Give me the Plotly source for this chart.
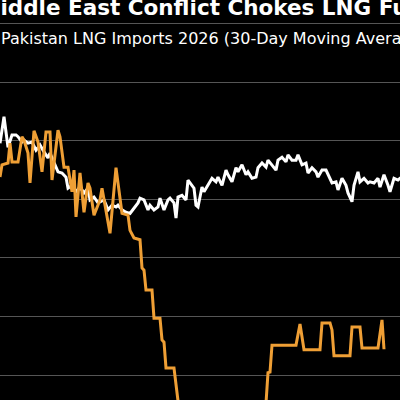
import plotly.graph_objects as go

# Day index (2 days per ~4 px of the original chart), values in arbitrary units
white_days = [0, 2, 4, 6, 8, 9, 11, 12, 14, 16, 18, 20, 22, 24, 25, 27, 29, 31, 33, 34,
              36, 38, 40, 42, 44, 45, 47, 49, 52, 54, 56, 58, 59, 61, 63, 65, 67, 69, 70, 72,
              74, 75, 77, 79, 80, 82, 84, 85, 87, 88, 89, 91, 93, 94, 97, 98, 99, 101, 102, 104,
              106, 108, 109, 111, 113, 114, 116, 118, 119, 121, 123, 124, 126, 128, 129, 131, 133, 134, 136, 138,
              139, 141, 143, 144, 146, 148, 149, 150, 151, 153, 154, 156, 158, 159, 161, 163, 164, 166, 168, 169,
              171, 173, 174, 176, 177, 179, 180, 182, 184, 185, 187, 189, 190, 192, 194, 195, 197, 199, 200, 202]
white_vals = [4.96, 5.41, 4.89, 5.10, 5.10, 5.07, 4.98, 5.01, 4.96, 4.98, 4.84, 4.93, 4.81, 4.71, 4.79, 4.64, 4.47, 4.45, 4.38, 4.19,
              4.24, 4.13, 4.21, 4.11, 4.19, 3.99, 4.04, 3.94, 3.99, 3.82, 3.90, 3.87, 3.90, 3.82, 3.78, 3.76, 3.85, 3.94, 4.02, 3.99,
              3.82, 3.90, 3.82, 3.87, 4.02, 3.82, 3.99, 4.02, 3.94, 3.68, 4.04, 4.07, 3.99, 4.33, 4.19, 3.90, 3.87, 4.21, 4.13, 4.24,
              4.36, 4.30, 4.38, 4.24, 4.50, 4.42, 4.30, 4.54, 4.47, 4.59, 4.42, 4.47, 4.36, 4.38, 4.54, 4.62, 4.55, 4.67, 4.59, 4.50,
              4.67, 4.72, 4.64, 4.76, 4.67, 4.67, 4.76, 4.67, 4.59, 4.62, 4.45, 4.54, 4.47, 4.38, 4.50, 4.50, 4.42, 4.28, 4.30, 4.16,
              4.36, 4.24, 4.11, 3.96, 4.24, 4.47, 4.30, 4.36, 4.28, 4.30, 4.28, 4.36, 4.21, 4.42, 4.24, 4.13, 4.36, 4.33, 4.36, 4.36]

orange_days = [0, 1, 4, 5, 6, 9, 11, 12, 14, 15, 17, 19, 21, 23, 25, 26, 29, 30, 32, 34,
               36, 37, 38, 40, 42, 44, 45, 47, 50, 51, 55, 58, 61, 64, 65, 67, 70, 71, 72, 73,
               76, 77, 80, 81, 82, 83, 87, 91, 132, 134, 135, 136, 148, 150, 152, 160, 161, 165, 166, 167,
               175, 176, 180, 181, 189, 191, 192]
orange_vals = [4.38, 4.59, 4.62, 4.96, 4.64, 4.64, 5.07, 5.01, 4.79, 4.28, 5.17, 4.98, 4.47, 5.15, 5.15, 4.33, 5.18, 5.07, 4.55, 4.55,
               4.13, 4.50, 3.70, 4.45, 3.78, 4.28, 4.19, 3.73, 3.99, 4.19, 3.42, 4.54, 3.76, 3.73, 3.47, 3.34, 3.31, 2.83, 2.79, 2.45,
               2.45, 1.97, 1.97, 1.60, 1.56, 1.12, 1.12, 0.00, 0.00, 1.04, 1.05, 1.51, 1.51, 1.87, 1.43, 1.43, 1.89, 1.89, 1.77, 1.33,
               1.33, 1.82, 1.82, 1.46, 1.46, 1.94, 1.44]

title_text = "Middle East Conflict Chokes LNG Fuel Supply to Pakistan"
subtitle_text = "Pakistan LNG Imports 2026 (30-Day Moving Average)"

fig = go.Figure()
fig.add_trace(go.Scatter(x=white_days, y=white_vals, mode="lines",
                         line=dict(color="#FFFFFF", width=3), name="2025"))
fig.add_trace(go.Scatter(x=orange_days, y=orange_vals, mode="lines",
                         line=dict(color="#EF9F35", width=3), name="2026"))

fig.update_layout(
    width=400, height=400, autosize=False,
    margin=dict(l=0, r=0, t=0, b=0),
    paper_bgcolor="#000000", plot_bgcolor="#000000",
    showlegend=False,
    xaxis=dict(range=[0, 200], showgrid=False, zeroline=False, showticklabels=False,
               ticks="", showline=False, fixedrange=True),
    yaxis=dict(range=[0.573, 7.405], showgrid=True, gridcolor="#555555", gridwidth=1,
               dtick=1, tick0=0, zeroline=False, showticklabels=False, ticks="",
               showline=False, fixedrange=True),
    annotations=[
        dict(text="<b>" + title_text + "</b>", xref="paper", yref="paper",
             x=-0.058, y=0.981, xanchor="left", yanchor="middle", showarrow=False,
             font=dict(family="DejaVu Sans", size=21.5, color="#FFFFFF")),
        dict(text=subtitle_text, xref="paper", yref="paper",
             x=-0.002, y=0.904, xanchor="left", yanchor="middle", showarrow=False,
             font=dict(family="DejaVu Sans", size=16, color="#FFFFFF")),
    ],
)

fig.write_html("out.html", config={"displayModeBar": False},
               post_script="document.body.style.margin='0';")
